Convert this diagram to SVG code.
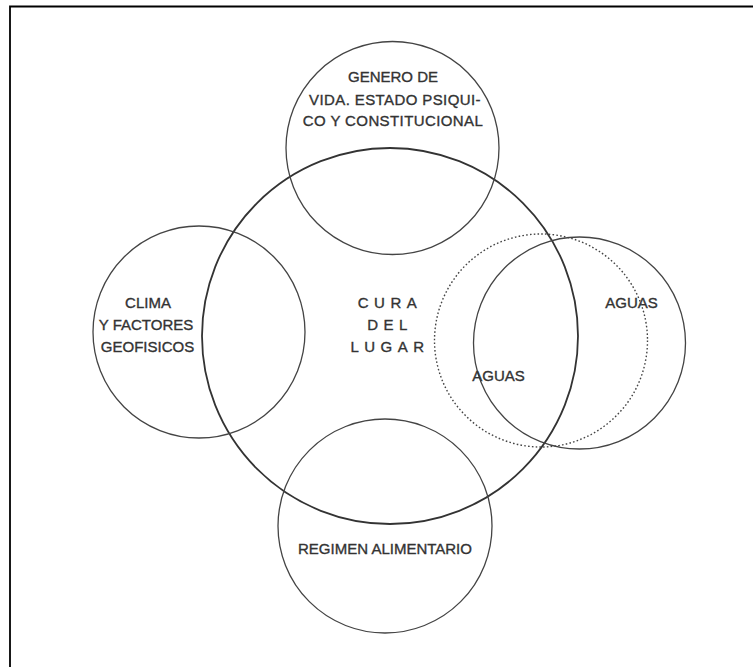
<svg xmlns="http://www.w3.org/2000/svg" width="753" height="667" viewBox="0 0 753 667">
<style>
.c{fill:none;stroke:#444;stroke-width:1.3}
.big{stroke:#333;stroke-width:1.8}
.dot{stroke-dasharray:1.6 2.2;stroke-width:1.4}
text{font-family:"Liberation Sans",Arial,sans-serif;font-size:15px;fill:#333;stroke:#333;stroke-width:0.35;text-anchor:middle}
.sp{letter-spacing:5.5px}
</style>
<rect width="753" height="667" fill="#fff"/>
<path d="M10 667 V6.5 H753" fill="none" stroke="#000" stroke-width="1.8"/>
<g id="connectors"/>
<g id="cura">
<circle class="c big" cx="390" cy="336" r="188"/>
<text class="sp" x="390" y="308">CURA</text>
<text class="sp" x="390" y="330">DEL</text>
<text class="sp" x="390" y="352">LUGAR</text>
</g>
<g id="genero">
<circle class="c" cx="392.5" cy="148" r="106.5"/>
<text x="393" y="82">GENERO DE</text>
<text x="395" y="105" style="letter-spacing:0.4px">VIDA. ESTADO PSIQUI-</text>
<text x="393" y="126" style="letter-spacing:0.4px">CO Y CONSTITUCIONAL</text>
</g>
<g id="clima">
<circle class="c" cx="199" cy="332" r="106"/>
<text x="148" y="308">CLIMA</text>
<text x="146" y="330">Y FACTORES</text>
<text x="147.5" y="352">GEOFISICOS</text>
</g>
<g id="regimen">
<circle class="c" cx="385" cy="526" r="107"/>
<text x="385" y="554">REGIMEN ALIMENTARIO</text>
</g>
<g id="aguas-ext">
<circle class="c" cx="579.5" cy="343" r="106"/>
<text x="631.5" y="308">AGUAS</text>
</g>
<g id="aguas-int">
<circle class="c dot" cx="541" cy="340.5" r="106.5"/>
<text x="498.5" y="381">AGUAS</text>
</g>
</svg>
